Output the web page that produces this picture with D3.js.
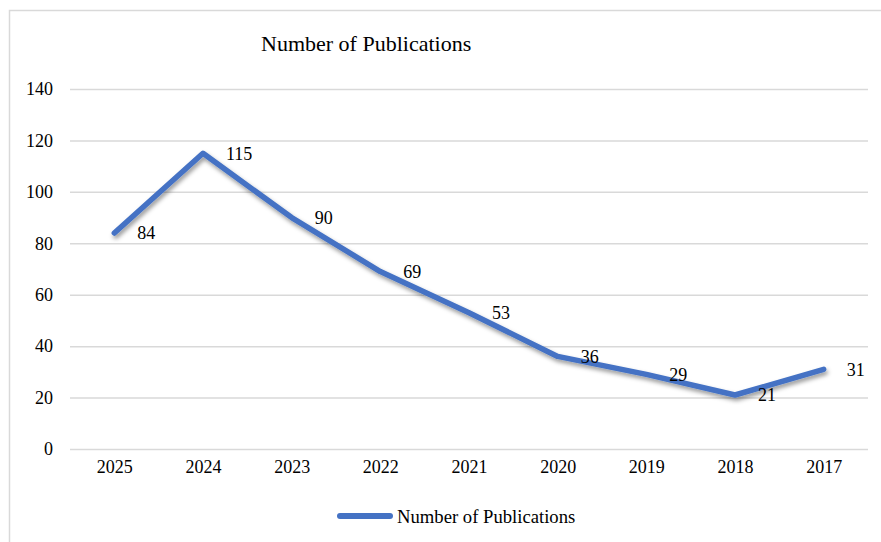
<!DOCTYPE html>
<html>
<head>
<meta charset="utf-8">
<script src="https://cdn.jsdelivr.net/npm/d3@7"></script>
<style>
  html, body { margin: 0; padding: 0; background: #fff; }
  svg { display: block; }
  text { font-family: "Liberation Serif", "Times New Roman", serif; fill: #000; }
</style>
</head>
<body>
<div id="chart"></div>
<script>
// Publications per year (newest first)
const years = ["2025", "2024", "2023", "2022", "2021", "2020", "2019", "2018", "2017"];
const publications = [84, 115, 90, 69, 53, 36, 29, 21, 31];
const yTicks = [0, 20, 40, 60, 80, 100, 120, 140];
const seriesName = "Number of Publications";

const W = 881, H = 542;
const plot = { left: 70, right: 868, top: 89, bottom: 449 };
const blue = "#4472C4";

const svg = d3.select("#chart").append("svg")
  .attr("width", W).attr("height", H);

// soft drop shadow under the series line
const defs = svg.append("defs");
const f = defs.append("filter").attr("id", "shadow")
  .attr("x", "-5%").attr("y", "-10%").attr("width", "110%").attr("height", "130%");
f.append("feDropShadow").attr("dx", 1.5).attr("dy", 3).attr("stdDeviation", 2)
  .attr("flood-color", "#000").attr("flood-opacity", 0.4);

// chart area border
svg.append("path")
  .attr("d", `M9.5,${H} L9.5,10.5 L${W},10.5`)
  .attr("fill", "none").attr("stroke", "#d9d9d9").attr("stroke-width", 1.5);

const x = d3.scalePoint().domain(years).range([plot.left, plot.right]).padding(0.5);
const y = d3.scaleLinear().domain([0, 140]).range([plot.bottom, plot.top]);

// horizontal gridlines with value labels
const yAxis = svg.append("g")
  .attr("transform", `translate(${plot.left},0)`)
  .call(d3.axisLeft(y).tickValues(yTicks).tickSize(-(plot.right - plot.left)).tickPadding(17).tickFormat(d3.format("d")));
yAxis.select(".domain").remove();
yAxis.selectAll(".tick line").attr("stroke", "#d9d9d9").attr("stroke-width", 1.5);
yAxis.selectAll(".tick text").attr("font-size", 18).attr("fill", "#000");

// category labels
const xAxis = svg.append("g")
  .attr("transform", `translate(0,${plot.bottom})`)
  .call(d3.axisBottom(x).tickSize(0).tickPadding(11));
xAxis.select(".domain").remove();
xAxis.selectAll(".tick text").attr("font-size", 18).attr("fill", "#000");

// title
svg.append("text")
  .attr("x", 261).attr("y", 51)
  .attr("font-size", 22)
  .text(seriesName);

// series line
const line = d3.line()
  .x((d, i) => x(years[i]))
  .y(d => y(d));
svg.append("path")
  .datum(publications)
  .attr("d", line)
  .attr("fill", "none")
  .attr("stroke", blue)
  .attr("stroke-width", 5.5)
  .attr("stroke-linejoin", "round")
  .attr("stroke-linecap", "round")
  .attr("filter", "url(#shadow)");

// value labels to the right of each point
svg.append("g").selectAll("text")
  .data(publications)
  .join("text")
  .attr("x", (d, i) => x(years[i]) + 23)
  .attr("y", d => y(d))
  .attr("dy", "0.35em")
  .attr("font-size", 18)
  .text(d => d);

// legend
const lg = svg.append("g");
lg.append("line")
  .attr("x1", 340).attr("x2", 390).attr("y1", 516).attr("y2", 516)
  .attr("stroke", blue).attr("stroke-width", 6).attr("stroke-linecap", "round");
lg.append("text")
  .attr("x", 397).attr("y", 516).attr("dy", "0.35em")
  .attr("font-size", 18.67)
  .text(seriesName);
</script>
</body>
</html>
